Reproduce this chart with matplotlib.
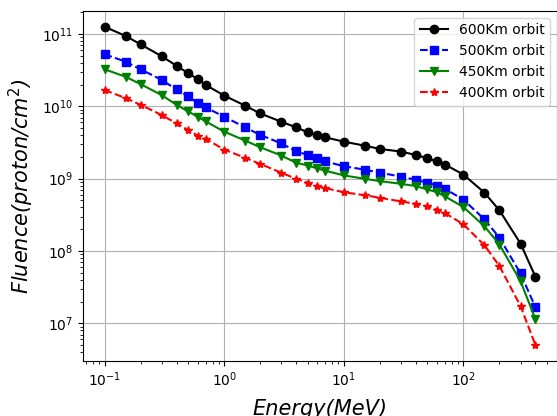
import numpy as np
import matplotlib
matplotlib.use('Agg')
import matplotlib.pyplot as plt

energy = [0.1, 0.15, 0.2, 0.3, 0.4, 0.5, 0.6, 0.7, 1, 1.5, 2, 3, 4, 5, 6, 7,
          10, 15, 20, 30, 40, 50, 60, 70, 100, 150, 200, 300, 400]

orbit_600 = [1.26e11, 9.4e10, 7.2e10, 4.93e10, 3.63e10, 2.88e10, 2.38e10, 1.98e10,
             1.41e10, 1.02e10, 7.98e9, 6.13e9, 5.12e9, 4.37e9, 4.03e9, 3.73e9,
             3.25e9, 2.86e9, 2.58e9, 2.37e9, 2.13e9, 1.92e9, 1.73e9, 1.57e9,
             1.14e9, 6.4e8, 3.65e8, 1.27e8, 4.4e7]
orbit_500 = [5.25e10, 4.15e10, 3.26e10, 2.32e10, 1.71e10, 1.37e10, 1.11e10, 9.66e9,
             7.19e9, 5.12e9, 4.03e9, 3.08e9, 2.39e9, 2.13e9, 1.92e9, 1.73e9,
             1.49e9, 1.33e9, 1.21e9, 1.07e9, 9.66e8, 8.8e8, 8.05e8, 7.26e8,
             5.12e8, 2.74e8, 1.53e8, 4.9e7, 1.67e7]
orbit_450 = [3.26e10, 2.56e10, 2.03e10, 1.43e10, 1.05e10, 8.5e9, 7.19e9, 6.2e9,
             4.47e9, 3.36e9, 2.72e9, 2.09e9, 1.66e9, 1.52e9, 1.39e9, 1.29e9,
             1.11e9, 9.97e8, 9.25e8, 8.5e8, 7.9e8, 7.1e8, 6.5e8, 5.7e8,
             4.05e8, 2.2e8, 1.23e8, 3.84e7, 1.14e7]
orbit_400 = [1.68e10, 1.30e10, 1.05e10, 7.59e9, 5.81e9, 4.72e9, 3.94e9, 3.55e9,
             2.53e9, 1.94e9, 1.60e9, 1.21e9, 9.97e8, 8.8e8, 7.9e8, 7.4e8,
             6.5e8, 5.9e8, 5.46e8, 4.85e8, 4.5e8, 4.14e8, 3.73e8, 3.35e8,
             2.34e8, 1.2e8, 6.2e7, 1.74e7, 5.0e6]

fig = plt.figure(figsize=(5.57, 4.16), dpi=100)
ax = fig.add_axes([0.149, 0.132, 0.851, 0.842])

ax.loglog(energy, orbit_600, 'ko-', label='600Km orbit')
ax.loglog(energy, orbit_500, 'bs--', label='500Km orbit')
ax.loglog(energy, orbit_450, 'gv-', label='450Km orbit')
ax.loglog(energy, orbit_400, 'r*--', label='400Km orbit')

ax.grid(True, which='major', color='#b0b0b0', lw=0.8)
ax.set_xlabel('Energy(MeV)', fontsize=15, fontstyle='italic', labelpad=7)
ax.set_ylabel('Fluence(proton/cm$^2$)', fontsize=15, fontstyle='italic')
ax.legend(loc='upper right')

fig.savefig('out.png', dpi=100)
